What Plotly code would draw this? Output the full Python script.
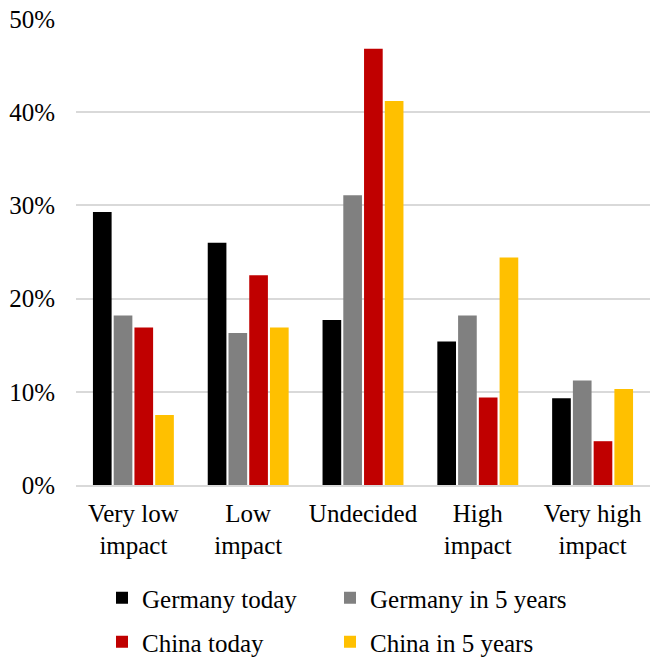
import plotly.graph_objects as go

# Survey answers: perceived impact, share of respondents
categories = ["Very low<br>impact", "Low<br>impact", "Undecided", "High<br>impact", "Very high<br>impact"]
germany_today = [29.3, 26.0, 17.7, 15.4, 9.3]
germany_5y = [18.2, 16.3, 31.1, 18.2, 11.2]
china_today = [16.9, 22.5, 46.8, 9.4, 4.7]
china_5y = [7.5, 16.9, 41.2, 24.4, 10.3]

y_ticks = [0, 10, 20, 30, 40, 50]
y_tick_labels = ["0%", "10%", "20%", "30%", "40%", "50%"]

# name, values, colour, legend row, legend entry width (px)
series = [
    ("Germany today", germany_today, "#000000", "legend", 183),
    ("Germany in 5 years", germany_5y, "#808080", "legend", 220),
    ("China today", china_today, "#c00000", "legend2", 183),
    ("China in 5 years", china_5y, "#ffc000", "legend2", 220),
]

FONT = "Liberation Serif"
W, H = 650, 657

fig = go.Figure()
for name, vals, color, leg, lw in series:
    fig.add_trace(go.Bar(
        x=categories, y=vals, name=name,
        marker=dict(color=color, line=dict(width=0)),
        legend=leg, legendwidth=lw,
    ))

legend_common = dict(
    orientation="h",
    xref="container", yref="container",
    xanchor="left", yanchor="middle",
    font=dict(family=FONT, size=25, color="#000000"),
    bgcolor="rgba(0,0,0,0)",
)

fig.update_layout(
    width=W, height=H,
    margin=dict(l=76, r=0, t=19, b=172),
    paper_bgcolor="white", plot_bgcolor="white",
    barmode="group", bargap=0.277, bargroupgap=0.1,
    font=dict(family=FONT, size=25, color="#000000"),
    showlegend=True,
    legend=dict(x=102 / W, y=1 - 598 / H, **legend_common),
    legend2=dict(x=102 / W, y=1 - 642 / H, **legend_common),
    xaxis=dict(
        showgrid=False, showline=True, linecolor="#d9d9d9", linewidth=1.5,
        ticks="", ticklabelstandoff=5,
        tickfont=dict(family=FONT, size=25, color="#000000"),
        fixedrange=True,
    ),
    yaxis=dict(
        range=[0, 50], tickvals=y_ticks, ticktext=y_tick_labels,
        showgrid=True, gridcolor="#d9d9d9", gridwidth=1.5,
        zeroline=False, showline=False, ticks="",
        ticklabelstandoff=20,
        tickfont=dict(family=FONT, size=25, color="#000000"),
        fixedrange=True,
    ),
)

fig.write_html("out.html")
